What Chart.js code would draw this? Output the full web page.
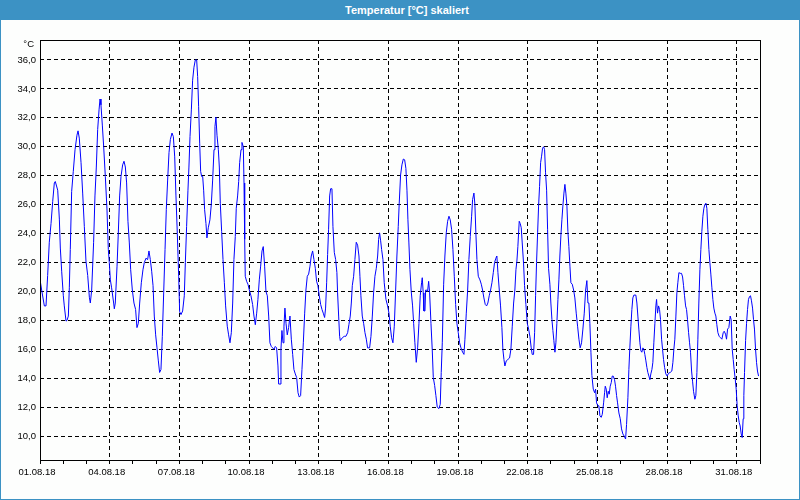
<!DOCTYPE html>
<html><head><meta charset="utf-8">
<script src="https://cdn.jsdelivr.net/npm/chart.js@4"></script>
<style>
html,body{margin:0;padding:0;background:#fff;}
#wrap{position:relative;width:800px;height:500px;background:#fdfefd;overflow:hidden;}
#title{position:absolute;left:0;top:0;width:800px;height:20px;background:#3c92c4;}
#title span{position:absolute;left:407px;top:4px;transform:translateX(-50%);line-height:14px;color:#fff;font:bold 11px 'Liberation Sans',Arial,sans-serif;white-space:nowrap;}
#frame{position:absolute;left:0;top:0;width:800px;height:500px;box-sizing:border-box;border:1px solid #3c92c4;pointer-events:none;}
canvas{position:absolute;left:0;top:20px;}
</style></head>
<body><div id="wrap"><div id="title"><span>Temperatur [°C] skaliert</span></div><canvas id="c" width="800" height="480"></canvas><div id="frame"></div></div>
<script>
// hours since 01.08.18 00:00
const timeHours = [
0.3,1.7,4.5,6.2,7.9,9.6,11.4,13.1,14.8,15.8,18.3,20.0,21.0,22.4,24.1,25.1,26.9,27.9,29.3,30.3,
31.3,32.7,34.4,36.2,38.2,39.3,40.6,42.4,44.1,45.8,47.5,49.3,51.0,52.0,53.4,55.4,56.8,58.2,59.6,61.0,
62.0,63.0,64.4,65.8,67.5,69.2,70.6,71.6,72.7,74.0,76.1,76.8,77.8,79.6,80.9,82.3,83.7,85.4,86.8,88.2,
89.5,90.9,92.3,93.7,95.4,97.1,98.8,100.2,101.6,103.0,104.7,106.4,107.8,109.5,111.2,112.6,114.0,115.4,116.8,118.1,
119.5,120.9,122.3,123.6,125.0,126.4,127.8,129.2,130.5,131.9,133.3,134.7,136.4,137.8,139.2,140.5,141.9,143.3,144.3,145.7,
147.4,149.1,150.2,151.5,152.9,153.9,155.0,156.4,157.7,159.1,160.5,161.9,162.9,163.9,165.0,166.0,167.0,168.1,169.1,170.1,
171.5,172.5,173.9,175.6,177.0,178.4,179.8,180.8,181.8,182.9,184.3,185.3,186.3,187.7,189.1,190.5,191.8,193.5,194.9,196.3,
197.7,199.1,200.4,201.8,202.8,204.2,205.3,206.3,207.7,208.7,210.1,210.8,211.5,212.1,213.5,214.9,216.3,218.0,219.7,221.1,
222.5,223.9,225.2,226.6,228.0,229.4,230.7,232.1,233.5,234.9,236.3,237.6,239.0,240.4,241.8,243.1,244.5,245.9,246.6,248.0,
249.0,250.0,251.1,252.1,253.1,254.2,255.5,256.9,258.3,259.7,261.1,262.4,263.8,265.2,266.6,267.9,269.3,270.7,272.1,273.5,
274.8,276.2,277.6,279.0,280.3,281.7,283.1,284.5,285.8,287.2,288.6,290.0,291.4,292.7,294.1,295.1,296.2,
297.2,298.2,299.3,300.3,301.7,302.7,304.1,305.5,306.8,307.5,308.6,309.6,310.3,312.4,314.4,316.1,317.9,319.2,320.6,321.7,
322.7,324.1,325.4,326.8,328.2,329.6,330.6,331.6,333.0,334.4,335.8,337.2,338.5,340.6,342.0,343.4,344.7,346.1,347.5,348.9,
349.9,350.9,352.0,353.0,354.4,355.7,357.5,359.2,360.6,361.9,363.3,364.7,366.1,367.5,368.8,370.2,371.2,372.6,374.0,375.4,
376.8,378.1,379.2,380.2,381.2,382.3,383.6,385.0,386.1,387.4,388.8,390.2,391.6,392.9,394.3,395.0,396.0,396.7,397.8,398.5,
399.5,400.5,401.6,402.6,404.0,405.3,406.4,407.8,409.1,410.5,412.2,413.6,414.6,415.7,417.1,418.4,419.8,421.2,422.6,423.9,
425.3,426.7,428.1,429.5,430.8,432.2,433.6,435.0,436.7,438.1,439.1,440.5,441.9,443.2,444.6,446.0,
447.0,448.4,449.4,450.4,451.5,452.9,454.6,456.0,457.3,458.7,460.1,461.5,462.8,464.2,465.6,467.0,468.4,469.7,471.1,472.1,
473.2,474.6,475.9,477.3,478.3,479.4,480.4,481.8,483.5,485.2,486.6,488.0,489.4,490.7,491.8,492.8,493.8,495.2,496.2,497.3,
498.3,499.7,500.7,502.1,503.5,504.9,506.2,507.6,508.6,510.0,511.1,512.1,513.1,514.2,515.2,516.2,517.3,518.3,519.3,520.4,
521.4,522.4,523.5,524.5,525.5,526.9,527.9,529.0,530.0,531.0,532.1,533.1,534.1,535.2,536.2,537.2,538.3,539.3,540.3,541.4,
542.4,543.4,544.5,545.5,546.5,547.6,548.6,550.0,551.4,552.7,554.1,555.5,556.9,558.2,559.6,561.0,562.4,563.8,565.1,566.2,
567.2,568.2,569.3,570.3,571.7,573.1,574.1,575.1,576.5,577.5,578.6,579.9,581.0,582.4,583.4,584.1,585.1,586.1,587.2,588.2,
589.2,590.3,591.3,592.3,593.7,594.7,595.8,
596.8,598.2,599.6,600.9,602.3,603.7,605.1,606.1,607.5,608.5,609.5,610.6,611.6,612.6,613.7,615.7,616.8,617.8,618.8,619.9,
620.9,621.9,623.0,624.0,625.0,626.1,627.1,628.1,629.2,630.2,631.2,632.3,633.3,634.3,635.4,636.4,637.1,638.1,639.2,640.2,
641.2,642.3,643.3,644.3,645.4,646.7,648.1,649.5,651.2,652.9,654.0,655.0,656.0,657.1,658.1,659.1,660.2,661.5,662.9,664.0,
665.0,666.0,667.1,668.1,669.1,670.2,671.2,672.2,673.3,674.3,675.3,676.7,677.7,678.8,679.8,680.8,681.9,682.9,683.9,685.0,
686.0,687.0,688.1,689.1,690.1,691.2,692.2,693.2,694.3,695.3,696.3,697.4,698.4,699.4,700.5,701.8,703.2,704.6,706.0,707.0,
708.4,709.4,710.5,711.8,713.2,714.2,715.3,716.3,717.3,718.4,719.4,720.4,721.5,722.5,723.5,724.6,725.6,726.6,727.3,728.0,
729.1,730.1,731.1,732.1,733.2,734.2,735.2,736.3,737.3,738.3,739.4,740.4,741.4,742.5
];
const temperature = [
20.7,20.1,19.0,19.0,21.1,23.4,24.7,26.2,27.5,27.6,27.0,25.0,23.0,21.4,19.7,19.0,17.95,18.0,18.3,20.25,
22.9,26.9,28.3,29.8,30.8,31.1,30.6,28.9,26.8,24.5,22.1,21.1,19.6,19.2,20.1,23.4,26.6,28.6,31.2,32.55,
33.3,32.9,31.5,30.0,27.95,25.7,22.9,22.0,20.8,20.25,19.2,18.8,19.2,21.75,24.0,26.6,27.95,28.75,29.0,28.6,
27.5,24.85,23.35,21.5,20.1,19.2,18.75,17.5,17.8,19.2,20.6,21.5,22.0,22.3,22.2,22.8,22.2,21.4,20.4,18.3,
17.0,16.1,15.2,14.4,14.6,16.9,19.9,22.9,25.65,27.7,29.6,30.5,30.95,30.7,29.3,26.6,24.0,21.05,18.6,18.4,
18.65,19.7,22.0,24.5,27.0,28.6,30.7,32.55,34.6,35.5,36.0,36.0,34.85,32.8,30.25,28.3,27.95,27.95,27.0,25.65,
24.7,23.7,24.4,24.95,26.0,27.7,29.8,31.4,32.05,30.8,29.8,28.6,26.1,24.15,22.2,20.6,19.0,17.6,17.0,16.45,
17.15,19.2,22.2,23.8,25.75,26.6,27.6,28.9,29.8,30.3,30.0,27.5,23.6,21.05,20.7,20.5,20.1,19.7,19.1,18.3,
17.7,18.5,19.45,20.8,21.75,22.8,23.1,21.75,20.0,19.7,18.3,16.45,16.2,16.1,16.0,16.2,16.1,14.85,13.6,13.6,
16.0,17.3,16.45,17.6,18.85,17.8,17.0,17.5,18.3,16.7,15.65,14.6,14.3,14.05,13.0,12.7,12.8,14.6,16.45,18.5,
20.1,21.05,21.2,21.75,22.45,22.8,22.2,21.6,20.7,20.4,19.7,19.1,18.75,18.5,18.2,18.85,20.6,
22.55,24.3,26.6,27.1,27.1,24.5,22.7,22.2,21.3,19.9,18.3,16.9,16.6,16.8,16.9,16.9,17.15,17.7,18.3,19.2,
20.4,21.05,22.2,23.4,23.2,22.45,21.05,19.7,18.3,17.8,17.15,16.7,16.1,16.1,16.9,18.3,19.9,21.05,21.6,22.45,
23.6,24.05,23.5,22.9,22.2,20.6,19.45,19.0,18.5,17.6,16.8,16.45,17.6,20.1,22.45,24.5,26.1,28.05,28.75,29.15,
29.1,28.5,27.0,24.95,23.35,21.5,20.0,19.0,17.8,16.45,15.1,16.1,17.8,19.7,20.6,20.95,19.9,18.65,18.65,20.1,
20.1,20.0,20.7,19.9,17.8,16.0,14.05,13.5,12.8,12.0,11.9,12.2,14.4,16.45,20.5,22.45,24.05,24.85,25.2,24.95,
24.3,22.9,21.05,19.1,17.8,17.15,16.45,16.1,15.8,15.65,16.7,18.5,20.1,22.2,23.8,25.2,
26.35,26.8,26.0,24.05,22.2,21.05,20.8,20.5,20.1,19.55,19.1,19.0,19.2,19.7,20.1,20.6,21.3,22.0,22.3,22.45,
21.3,20.1,19.0,17.5,16.0,15.3,14.85,15.2,15.3,15.4,16.0,17.6,19.2,20.1,21.5,22.1,23.1,24.85,24.7,24.4,
23.35,21.9,20.4,19.1,17.8,17.4,16.9,16.1,15.65,15.65,17.15,19.7,22.0,24.05,25.9,27.25,28.9,29.35,29.9,30.0,
29.8,28.2,27.0,24.3,21.6,20.5,19.2,18.05,17.3,16.6,15.8,16.45,17.8,19.45,20.8,22.45,23.9,24.95,25.9,26.8,
27.4,26.8,25.9,24.15,23.1,21.75,20.6,20.5,20.1,19.55,18.5,17.6,16.7,16.1,16.45,17.4,18.5,20.1,20.75,19.2,
19.2,17.8,15.8,14.2,13.25,13.0,13.25,12.3,12.1,12.1,11.4,11.3,11.5,12.3,13.0,13.45,13.25,12.65,13.1,12.9,
13.45,13.7,14.15,14.15,13.9,13.45,12.8,
12.3,11.6,11.2,10.5,10.15,10.0,9.8,10.8,12.65,14.6,16.1,17.6,18.75,19.55,19.75,19.75,19.2,18.3,17.4,16.45,
15.9,15.8,16.1,16.0,15.65,15.2,14.75,14.4,14.15,13.9,14.3,14.6,15.1,16.45,17.8,19.0,19.45,18.5,19.0,18.75,
18.05,16.7,16.0,15.3,14.75,14.3,14.15,14.35,14.4,14.5,15.1,16.0,16.7,18.3,19.9,20.6,21.3,21.25,21.25,21.0,
20.4,19.7,19.0,18.75,18.05,17.15,16.45,15.8,14.5,13.8,13.1,12.55,12.8,14.4,16.7,19.2,21.5,22.9,24.15,25.2,
25.75,26.0,26.1,25.75,24.3,22.9,22.0,21.2,20.25,19.45,18.85,18.5,18.3,17.7,17.15,16.9,16.8,16.7,17.15,17.25,
17.05,16.7,17.4,17.5,18.3,18.05,16.0,15.3,14.6,13.95,13.25,12.1,11.4,10.95,10.7,10.15,9.9,11.2,12.8,14.4,
16.6,17.8,18.75,19.45,19.65,19.7,19.35,18.85,18.05,17.4,16.0,15.1,14.5,14.15
];
const xTickHours = [0,72,144,216,288,360,432,504,576,648,720];
const xTickLabels = ['01.08.18','04.08.18','07.08.18','10.08.18','13.08.18','16.08.18','19.08.18','22.08.18','25.08.18','28.08.18','31.08.18'];
const yTickValues = [10,12,14,16,18,20,22,24,26,28,30,32,34,36];
const yUnit = '°C';

const FONT = "'Liberation Sans', Arial, sans-serif";
const n = Math.min(timeHours.length, temperature.length);
const points = [];
for (let i = 0; i < n; i++) points.push({x: timeHours[i], y: temperature[i]});
const dayTicks = [];
for (let h = 0; h <= 744; h += 24) dayTicks.push(h);

const framePlugin = {
  id: 'frame',
  afterDraw(chart) {
    const {ctx, chartArea: a} = chart;
    ctx.save();
    ctx.strokeStyle = '#000';
    ctx.lineWidth = 1;
    ctx.strokeRect(a.left + 0.5, a.top + 0.5, a.right - a.left, a.bottom - a.top);
    ctx.fillStyle = '#000';
    ctx.font = '9.5px ' + FONT;
    ctx.textAlign = 'right';
    ctx.textBaseline = 'middle';
    ctx.fillText(yUnit, 34, a.top + 4);
    ctx.restore();
  }
};

new Chart(document.getElementById('c'), {
  type: 'line',
  data: { datasets: [{ data: points, borderColor: '#0000ff', borderWidth: 1, pointRadius: 0, fill: false, tension: 0 }] },
  options: {
    responsive: false, animation: false,
    layout: { padding: { top: 20, right: 40, left: 0, bottom: 0 } },
    plugins: { legend: { display: false }, tooltip: { enabled: false } },
    scales: {
      x: {
        type: 'linear', min: 0, max: 744,
        afterBuildTicks: (s) => { s.ticks = dayTicks.map(v => ({ value: v })); },
        afterFit: (s) => { s.height = 40; },
        ticks: {
          autoSkip: false, maxRotation: 0, minRotation: 0, padding: 3, labelOffset: -3,
          color: '#000', font: { family: FONT, size: 9.5 },
          callback: (v) => { const i = xTickHours.indexOf(v); return i >= 0 ? xTickLabels[i] : ''; }
        },
        grid: {
          color: (c) => (c.tick && xTickHours.indexOf(c.tick.value) > 0) ? '#000' : 'rgba(0,0,0,0)',
          lineWidth: 1, drawTicks: true, tickLength: 4, tickColor: '#000', tickWidth: 1
        },
        border: { display: false, dash: [4, 3] }
      },
      y: {
        min: 8.35, max: 37.38,
        afterBuildTicks: (s) => { s.ticks = yTickValues.map(v => ({ value: v })); },
        afterFit: (s) => { s.width = 40; },
        ticks: {
          padding: 4, color: '#000', font: { family: FONT, size: 9.5 },
          callback: (v) => v.toFixed(1).replace('.', ',')
        },
        grid: { color: '#000', lineWidth: 1, drawTicks: false },
        border: { display: false, dash: [4, 3] }
      }
    }
  },
  plugins: [framePlugin]
});
</script>
</body></html>
